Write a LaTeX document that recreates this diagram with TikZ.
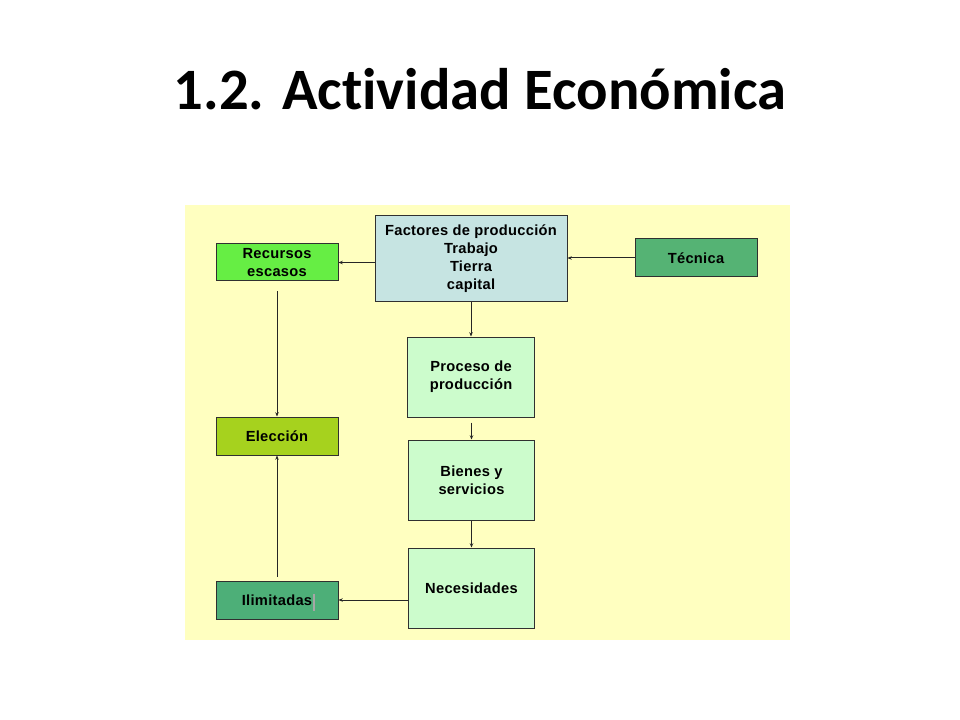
\documentclass[tikz,border=0pt]{standalone}
\usepackage{fontspec}
\setmainfont{Liberation Sans}
\newfontfamily\titlefont[Ligatures=NoCommon]{Carlito}
\usetikzlibrary{arrows.meta}
\definecolor{bgyel}{HTML}{FFFFC0}
\definecolor{factblue}{HTML}{C6E4E2}
\definecolor{recgreen}{HTML}{66EE44}
\definecolor{tecgreen}{HTML}{55B374}
\definecolor{elecgreen}{HTML}{A6D21E}
\definecolor{ilimgreen}{HTML}{4DAF78}
\definecolor{palegreen}{HTML}{CCFCCC}
\definecolor{boxline}{HTML}{303030}
\tikzset{
  box/.style={draw=boxline, line width=0.75pt, rectangle, align=center,
    font=\fontsize{11}{13.5}\selectfont\bfseries\addfontfeatures{LetterSpace=2}, inner sep=0pt},
  smallbox/.style={box, minimum width=91.5pt, minimum height=28.5pt},
  bigbox/.style={box, minimum width=95pt, minimum height=60pt},
  arr/.style={-{Stealth[length=3.2pt,width=2.6pt]}, line width=0.75pt, draw=black!85},
}
\begin{document}
\begin{tikzpicture}[x=0.75pt,y=-0.75pt]
\useasboundingbox (0,0) rectangle (960,720);
\fill[white] (0,0) rectangle (960,720);
\node[font=\titlefont\fontsize{44}{50}\selectfont\bfseries, anchor=base, inner sep=0pt] (title) at (480,110) {1.2. Actividad Económica};
\fill[bgyel] (185,205) rectangle (790,640);
\node[box, fill=factblue, minimum width=144pt, minimum height=64pt] (fact) at (471,258.5)
  {Factores de producción\\Trabajo\\Tierra\\capital};
\node[smallbox, fill=recgreen, minimum height=27.75pt] (rec) at (277,262.5) {Recursos\\escasos};
\node[smallbox, fill=tecgreen] (tec) at (696,258) {Técnica};
\node[bigbox, fill=palegreen] (proc) at (471,377) {Proceso de\\producción};
\node[smallbox, fill=elecgreen] (elec) at (277,436) {Elección};
\node[bigbox, fill=palegreen] (bien) at (471.5,480) {Bienes y\\servicios};
\node[bigbox, fill=palegreen] (nec) at (471.5,588) {Necesidades};
\node[smallbox, fill=ilimgreen] (ilim) at (277,600) {Ilimitadas};
\coordinate (cursor) at (314,594);
\draw[gray!70, line width=0.9pt] (cursor) -- ++(0,17);
% connectors
\draw[arr] (fact.west |- rec.east) -- (rec.east);
\draw[arr] (tec.west) -- (fact.east |- tec.west);
\draw[arr] (fact.south -| proc.north) -- (proc.north);
\draw[arr, shorten <=7.5pt] (rec.south) -- (elec.north);
\draw[arr, shorten <=3.75pt] (proc.south -| bien.north) -- (bien.north);
\draw[arr] (bien.south) -- (nec.north);
\draw[arr] (nec.west |- ilim.east) -- (ilim.east);
\draw[arr, shorten <=3pt] (ilim.north) -- (elec.south);
\end{tikzpicture}
\end{document}
